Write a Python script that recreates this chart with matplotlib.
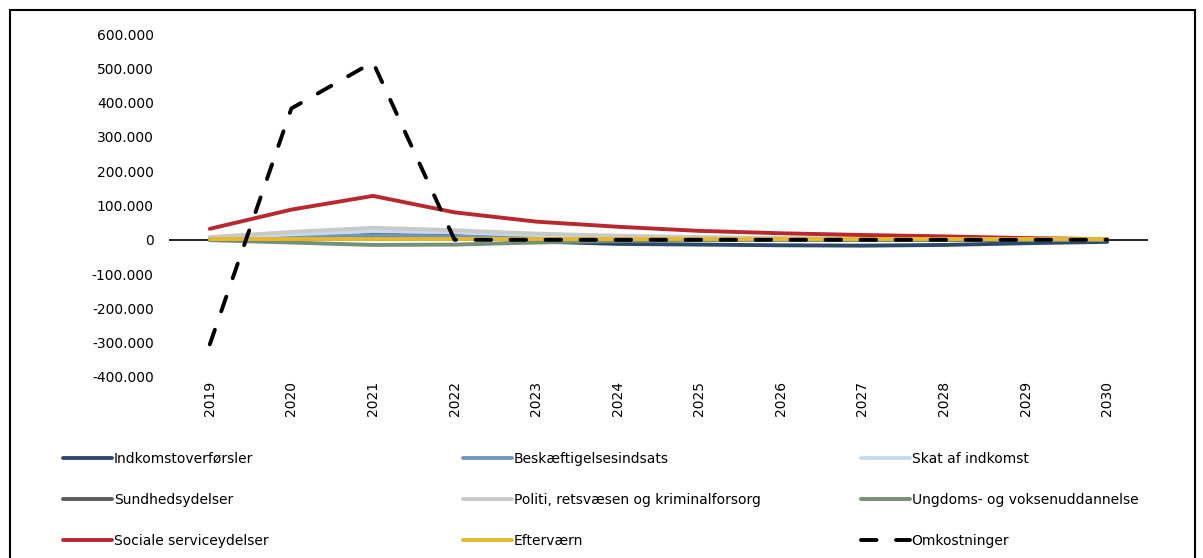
import matplotlib
matplotlib.use("Agg")
import matplotlib.pyplot as plt
from matplotlib.patches import Rectangle
from matplotlib.ticker import FuncFormatter

years = [2019, 2020, 2021, 2022, 2023, 2024, 2025, 2026, 2027, 2028, 2029, 2030]

indkomst = [2000, 8000, 15000, 12000, -5000, -12000, -14000, -16000, -17000, -15000, -10000, -6000]
beskaeft = [3000, 8000, 12000, 10000, 6000, 4000, 3000, 2000, 1500, 1000, 500, 0]
skat = [4000, 16000, 25000, 22000, 14000, 9000, 6000, 4000, 3000, 2000, 1000, 0]
sundhed = [1000, 2000, 3000, 2500, 1500, 1000, 500, 500, 0, 0, 0, 0]
politi = [8000, 23000, 35000, 28000, 18000, 12000, 8000, 5000, 4000, 3000, 1500, 500]
ungdoms = [-1000, -8000, -15000, -14000, -8000, -3000, -1000, 0, 0, 0, 0, 0]
sociale = [32000, 88000, 128000, 80000, 53000, 38000, 26000, 19000, 14000, 10000, 5000, 2000]
eftervaern = [1000, 1000, 1000, 1000, 1000, 1000, 1000, 1000, 1000, 1000, 1000, 1000]
omkostninger = [-305000, 383000, 518000, 0, 0, 0, 0, 0, 0, 0, 0, 0]

series = [
    ("Indkomstoverførsler", indkomst, "#2e4a6a"),
    ("Beskæftigelsesindsats", beskaeft, "#7396b9"),
    ("Skat af indkomst", skat, "#c6d9f0"),
    ("Sundhedsydelser", sundhed, "#5a5a5a"),
    ("Politi, retsvæsen og kriminalforsorg", politi, "#c9c9c9"),
    ("Ungdoms- og voksenuddannelse", ungdoms, "#768f78"),
    ("Sociale serviceydelser", sociale, "#b8282f"),
    ("Efterværn", eftervaern, "#e6b92b"),
]

plt.rcParams['font.family'] = ['DejaVu Sans']
fig = plt.figure(figsize=(12.03, 5.58), dpi=100)
W, H = 1203, 558
ax = fig.add_axes([169 / W, 1 - 377 / H, (1148 - 169) / W, (377 - 34) / H])

x = list(range(len(years)))
ax.axhline(0, color="black", lw=1.2, zorder=1)
handles = []
for name, vals, col in series:
    h, = ax.plot(x, vals, color=col, lw=2.8, label=name, solid_capstyle="round", zorder=2)
    handles.append(h)
h, = ax.plot(x, omkostninger, color="black", lw=2.8, label="Omkostninger",
             linestyle=(0, (4, 5)), dash_capstyle="round", zorder=3)
handles.append(h)

ax.set_xlim(-0.5, len(years) - 0.5)
ax.set_ylim(-400000, 600000)
ax.set_yticks(range(-400000, 600001, 100000))
ax.yaxis.set_major_formatter(FuncFormatter(lambda v, p: f"{int(v):,}".replace(",", ".")))
ax.set_xticks(x)
ax.set_xticklabels([str(y) for y in years], rotation=90)
ax.tick_params(axis="both", length=0, labelsize=10)
ax.tick_params(axis="y", pad=11)
ax.tick_params(axis="x", pad=3)
for s in ax.spines.values():
    s.set_visible(False)

# legends: three columns
cols_x = [63, 463, 861]
for ci, cx in enumerate(cols_x):
    hs = [handles[ci], handles[ci + 3], handles[ci + 6]]
    fig.legend(handles=hs, labels=[hh.get_label() for hh in hs],
               loc="upper left", bbox_to_anchor=(cx / W, 1 - 452 / H),
               frameon=False, fontsize=10, handlelength=3.5, handletextpad=0.15,
               labelspacing=1.95, borderpad=0, borderaxespad=0)

fig.patches.append(Rectangle((10 / W, -0.1), (1195 - 10) / W, 1.1 - 10 / H,
                             transform=fig.transFigure, fill=False,
                             edgecolor="black", lw=1.5, clip_on=False))

fig.savefig("out.png", dpi=100)
